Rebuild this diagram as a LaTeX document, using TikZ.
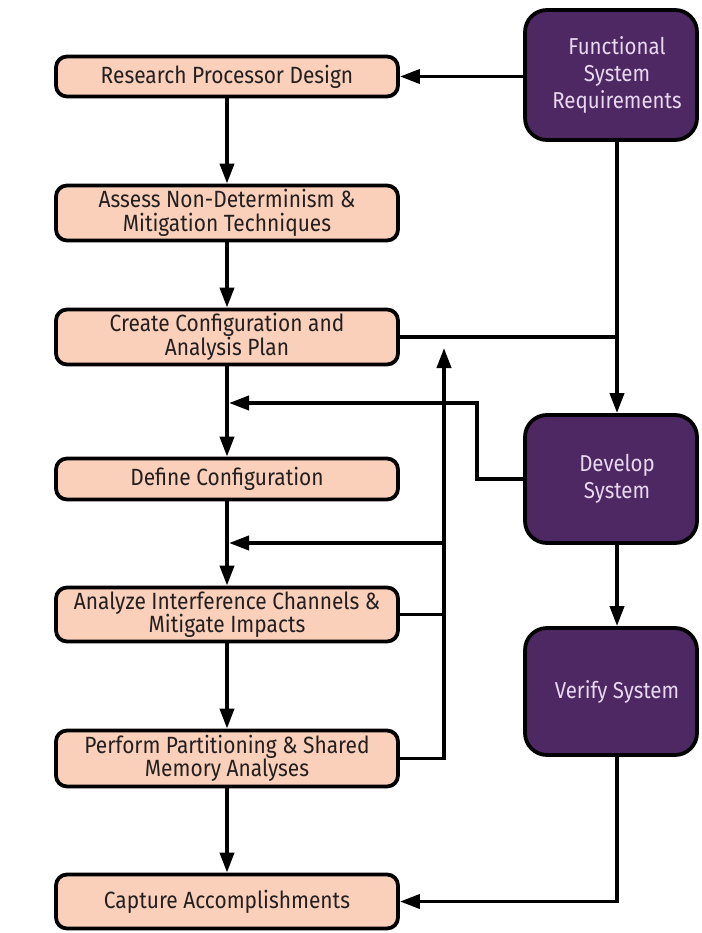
\documentclass[tikz,border=0pt]{standalone}
\usepackage{fontspec}
\setmainfont{Fira Sans}[FakeStretch=0.89]
\usetikzlibrary{arrows.meta,positioning,calc}
\definecolor{peach}{RGB}{251,208,186}
\definecolor{purp}{RGB}{77,40,98}
\definecolor{darktext}{RGB}{35,31,32}
\definecolor{lavtext}{RGB}{232,216,240}
\newcommand{\ps}{\hspace*{12pt}}
\begin{document}
\begin{tikzpicture}[x=1pt,y=-1pt,
  lbox/.style={draw=black,line width=3.8pt,fill=peach,rounded corners=11pt,
    minimum width=342pt,align=center,text=darktext,inner sep=0pt,
    font=\fontsize{23.5}{23.5}\selectfont},
  pbox/.style={draw=black,line width=3.8pt,fill=purp,rounded corners=22pt,
    minimum width=172pt,align=center,text=lavtext,inner sep=0pt,
    font=\fontsize{23}{27}\selectfont},
  conn/.style={line width=3.8pt,draw=black},
  arr/.style={conn,-{Triangle[length=20pt,width=14pt]}}]
\useasboundingbox[fill=white] (0,0) rectangle (701,933);
% left column
\node[lbox,minimum height=40pt] (research) at (227,76.5) {Research Processor Design};
\node[lbox,minimum height=55pt] (assess) at (227,213) {Assess Non-Determinism \&\\Mitigation Techniques};
\node[lbox,minimum height=55pt] (create) at (227,337) {Create Configuration and\\Analysis Plan};
\node[lbox,minimum height=41pt] (define) at (227,479) {Define Configuration};
\node[lbox,minimum height=54pt] (analyze) at (227,614.5) {Analyze Interference Channels \&\\Mitigate Impacts};
\node[lbox,minimum height=56pt] (perform) at (227,758.5) {Perform Partitioning \& Shared\\Memory Analyses};
\node[lbox,minimum height=54pt] (capture) at (227,901.5) {Capture Accomplishments};
% right column
\node[pbox,minimum height=130pt] (func) at (611,75) {\ps Functional\\\ps System\\\ps Requirements};
\node[pbox,minimum height=128pt] (develop) at (611,479) {\ps Develop\\\ps System};
\node[pbox,minimum height=127pt] (verify) at (611,691.5) {\ps Verify System};
% helper coordinates
\coordinate (vx) at (617,0);
\coordinate (j1) at (229,403);
\coordinate (djog) at (477,403);
\coordinate (fb) at (444,348);
\coordinate (fbh) at (444,543);
\coordinate (j2) at (229,543);
% connectors
\draw[arr] (func.west |- research.east) -- (research.east);
\draw[arr] (research.south) -- (assess.north);
\draw[arr] (assess.south) -- (create.north);
\draw[arr] (create.south) -- (define.north);
\draw[arr] (define.south) -- (analyze.north);
\draw[arr] (analyze.south) -- (perform.north);
\draw[arr] (perform.south) -- (capture.north);
\draw[arr] (func.south -| vx) -- (develop.north -| vx);
\draw[conn] (create.east) -- (create.east -| vx);
\draw[arr] (develop.west) -| (djog) -- (j1);
\draw[arr] (perform.east) -| (fb);
\draw[conn] (analyze.east) -- (analyze.east -| fb);
\draw[arr] (fbh) -- (j2);
\draw[arr] (develop.south -| vx) -- (verify.north -| vx);
\draw[arr] (verify.south -| vx) |- (capture.east);
\end{tikzpicture}
\end{document}
